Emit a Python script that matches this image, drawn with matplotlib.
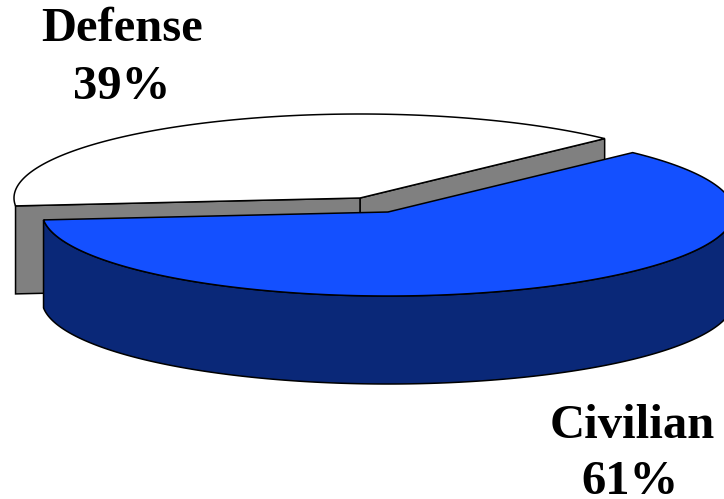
import numpy as np
import matplotlib
matplotlib.use("Agg")
import matplotlib.pyplot as plt
from matplotlib.patches import Polygon

labels = ["Defense", "Civilian"]
values = [39, 61]
colors = ["#ffffff", "#1450ff"]
side_colors = ["#808080", "#0a2878"]

start = 45.0
rx = 346
ry = 84
depth = 88

fig = plt.figure(figsize=(7.24, 4.99), dpi=100)
ax = fig.add_axes([0, 0, 1, 1])
ax.set_xlim(0, 724)
ax.set_ylim(499, 0)
ax.axis("off")


def arc(cx, cy, a, b):
    t = np.radians(np.linspace(a, b, 300))
    return np.column_stack([cx + rx * np.cos(t), cy - ry * np.sin(t)])


def draw(pts, color, z):
    ax.add_patch(Polygon(pts, closed=True, facecolor=color, edgecolor="black", lw=1.1, zorder=z))


# defense slice
a0 = start
a1 = start + 360 * values[0] / 100
cx, cy = 360, 198
p0 = arc(cx, cy, a0, a0)[0]
p1 = arc(cx, cy, a1, a1)[0]
draw([(cx, cy), p0, p0 + [0, depth], (cx, cy + depth)], side_colors[0], 1)
draw([(cx, cy), p1, p1 + [0, depth], (cx, cy + depth)], side_colors[0], 1)
draw(np.vstack([[(cx, cy)], arc(cx, cy, a0, a1)]), colors[0], 2)

# civilian slice, pulled out of the pie
b0 = a1
b1 = start + 360
cx2, cy2 = 388, 212
top = arc(cx2, cy2, b0, 360)
draw(np.vstack([top, (top + [0, depth])[::-1]]), side_colors[1], 3)
draw(np.vstack([[(cx2, cy2)], arc(cx2, cy2, b0, b1)]), colors[1], 4)

font = dict(family="Liberation Serif", fontweight="bold", fontsize=35, ha="center", va="baseline", color="black")
ax.text(122, 41, labels[0], **font)
ax.text(122, 99, "%d%%" % values[0], **font)
ax.text(632, 438, labels[1], **font)
ax.text(630, 494, "%d%%" % values[1], **font)

fig.savefig("out.png", dpi=100)
